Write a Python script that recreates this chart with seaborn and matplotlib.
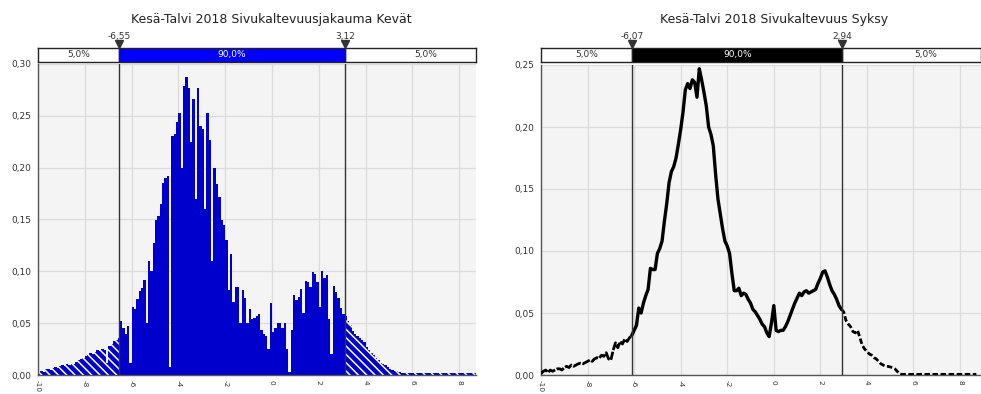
import numpy as np
import pandas as pd
import matplotlib
matplotlib.use("Agg")
import matplotlib.pyplot as plt
import seaborn as sns
from matplotlib.ticker import FuncFormatter, MultipleLocator

sns.set_theme(style="whitegrid")
plt.rcParams['font.family'] = ['DejaVu Sans']
plt.rcParams['hatch.linewidth'] = 1.1
plt.rcParams['hatch.color'] = 'white'

# ---------------- data ----------------
titles = ["Kesä-Talvi 2018 Sivukaltevuusjakauma Kevät", "Kesä-Talvi 2018 Sivukaltevuus Syksy"]
x_ticks = [-10, -8, -6, -4, -2, 0, 2, 4, 6, 8]
band_labels = ["5,0%", "90,0%", "5,0%"]

spring_lo, spring_hi = -6.55, 3.12
autumn_lo, autumn_hi = -6.07, 2.94

bin_start = -10.0
bin_width = 0.1
# spring: bar heights per 0.1 bin, left edges -10.0 ... 8.6
spring_values = [
    0.003, 0.004, 0.003, 0.006, 0.006, 0.005, 0.007, 0.008, 0.007, 0.009,
    0.010, 0.009, 0.011, 0.010, 0.012, 0.011, 0.013, 0.014, 0.015, 0.016,
    0.018, 0.019, 0.021, 0.020, 0.022, 0.024, 0.023, 0.025, 0.024, 0.012,
    0.028, 0.030, 0.033, 0.034, 0.036,
    0.052, 0.045, 0.040, 0.047, 0.012, 0.066, 0.064, 0.073, 0.081, 0.084,
    0.092, 0.050, 0.110, 0.100, 0.127, 0.150, 0.153, 0.165, 0.185, 0.190,
    0.192, 0.008, 0.231, 0.232, 0.244, 0.253, 0.200, 0.279, 0.287, 0.277,
    0.225, 0.266, 0.170, 0.277, 0.240, 0.237, 0.160, 0.253, 0.227, 0.110,
    0.200, 0.184, 0.172, 0.150, 0.145, 0.130, 0.082, 0.117, 0.070, 0.085,
    0.085, 0.050, 0.082, 0.074, 0.050, 0.064, 0.054, 0.055, 0.057, 0.059,
    0.043, 0.040, 0.038, 0.025, 0.069, 0.041, 0.045, 0.050, 0.050, 0.045,
    0.050, 0.025, 0.003, 0.043, 0.077, 0.072, 0.075, 0.083, 0.060, 0.091,
    0.090, 0.085, 0.099, 0.097, 0.090, 0.066, 0.100, 0.094, 0.096, 0.054,
    0.020, 0.086, 0.080, 0.074, 0.065, 0.059, 0.057, 0.052, 0.048, 0.042,
    0.040, 0.038, 0.036, 0.034, 0.032, 0.027, 0.024, 0.021, 0.019, 0.016,
    0.014, 0.012, 0.011, 0.010, 0.008, 0.006, 0.005, 0.004, 0.004, 0.003,
    0.002, 0.002, 0.0015, 0.0015, 0.002, 0.0015, 0.0015, 0.0015, 0.002, 0.0015,
    0.0015, 0.0015, 0.0015, 0.0015, 0.0015, 0.0015, 0.0015, 0.0015, 0.0015, 0.0015,
    0.0015, 0.0015, 0.0015, 0.0015, 0.0015, 0.0015, 0.0015, 0.0015, 0.0015, 0.0015,
    0.0015, 0.0015,
]

# autumn: curve values at x = -10.0 ... 8.7 (step 0.1)
autumn_values = [
    0.001, 0.003, 0.004, 0.002, 0.004, 0.003, 0.004, 0.005, 0.005, 0.004,
    0.006, 0.007, 0.006, 0.008, 0.007, 0.008, 0.009, 0.0095, 0.009, 0.010,
    0.011, 0.012, 0.011, 0.013, 0.014, 0.0135, 0.016, 0.015, 0.018, 0.013,
    0.012, 0.020, 0.026, 0.022, 0.027, 0.025, 0.029, 0.027, 0.030, 0.032,
    0.036, 0.040, 0.054, 0.050, 0.058, 0.064, 0.069, 0.086, 0.085, 0.085,
    0.098, 0.102, 0.108, 0.124, 0.138, 0.155, 0.164, 0.168, 0.175, 0.186,
    0.198, 0.212, 0.230, 0.235, 0.231, 0.238, 0.236, 0.224, 0.247, 0.238,
    0.228, 0.217, 0.200, 0.194, 0.185, 0.162, 0.142, 0.130, 0.118, 0.108,
    0.104, 0.098, 0.082, 0.068, 0.068, 0.070, 0.064, 0.066, 0.065, 0.061,
    0.058, 0.053, 0.051, 0.048, 0.045, 0.041, 0.039, 0.034, 0.031, 0.042,
    0.056, 0.036, 0.035, 0.036, 0.036, 0.039, 0.043, 0.048, 0.053, 0.058,
    0.062, 0.066, 0.064, 0.067, 0.068, 0.066, 0.067, 0.068, 0.069, 0.074,
    0.078, 0.083, 0.084, 0.079, 0.073, 0.068, 0.065, 0.061, 0.056, 0.053,
    0.051, 0.044, 0.041, 0.039, 0.035, 0.034, 0.036, 0.030, 0.024, 0.021,
    0.019, 0.017, 0.016, 0.014, 0.013, 0.011, 0.009, 0.008, 0.007, 0.007,
    0.0065, 0.006, 0.005, 0.003, 0.001, 0.0005, 0.0005, 0.0005, 0.0005, 0.0005,
    0.0005, 0.0005, 0.0005, 0.0005, 0.0005, 0.0005, 0.0005, 0.0005, 0.0005, 0.0005,
    0.0005, 0.0005, 0.0005, 0.0005, 0.0005, 0.0005, 0.0005, 0.0005, 0.0005, 0.0005,
    0.0005, 0.0005, 0.0005, 0.0005, 0.0005, 0.0005, 0.0005, 0.0005,
]

# ---------------- figure ----------------
W, H = 981, 394
fig = plt.figure(figsize=(W / 100, H / 100), dpi=100)

def frac_rect(x0, x1, ytop, ybot):
    return [x0 / W, (H - ybot) / H, (x1 - x0) / W, (ybot - ytop) / H]

comma2 = FuncFormatter(lambda v, p: f"{v:.2f}".replace(".", ","))
BG = "#F4F4F4"
GRID = "#DCDCDC"
SPINE = "#555555"
TXT = "#333333"


def style_axes(ax, xlim, ylim):
    ax.set_facecolor(BG)
    ax.set_xlim(*xlim)
    ax.set_ylim(*ylim)
    ax.set_xticks(x_ticks)
    ax.set_xticklabels([str(t) for t in x_ticks], rotation=-90, fontsize=5.3, color=TXT)
    ax.yaxis.set_major_locator(MultipleLocator(0.05))
    ax.yaxis.set_major_formatter(comma2)
    ax.tick_params(axis="y", labelsize=6.5, colors=TXT, length=3, width=0.8, pad=2)
    ax.tick_params(axis="x", length=2.5, width=0.8, pad=1, colors=TXT)
    ax.grid(True, color=GRID, linewidth=0.9)
    for s in ["top", "right"]:
        ax.spines[s].set_visible(False)
    for s in ["left", "bottom"]:
        ax.spines[s].set_color(SPINE)
        ax.spines[s].set_linewidth(1.0)
    ax.set_xlabel("")
    ax.set_ylabel("")


def draw_band(rect, xlim, lo, hi, mid_color, right_text_shift):
    bax = fig.add_axes(rect)
    bax.set_xlim(*xlim)
    bax.set_ylim(0, 1)
    bax.set_facecolor("white")
    bax.axvspan(lo, hi, color=mid_color, zorder=1)
    bax.axvline(lo, color="#222222", lw=1)
    bax.axvline(hi, color="#222222", lw=1)
    bax.set_xticks([])
    bax.set_yticks([])
    bax.grid(False)
    for s in bax.spines.values():
        s.set_color("#222222")
        s.set_linewidth(1.0)
    fs = 6.5
    bax.text((xlim[0] + lo) / 2, 0.5, band_labels[0], ha="center", va="center", fontsize=fs, color=TXT)
    bax.text((lo + hi) / 2, 0.5, band_labels[1], ha="center", va="center", fontsize=fs, color="white")
    bax.text((hi + xlim[1]) / 2 + right_text_shift, 0.5, band_labels[2], ha="center", va="center", fontsize=fs, color=TXT)
    for v in (lo, hi):
        bax.plot([v], [1.28], marker="v", ms=6, color="#333333", clip_on=False, zorder=5)
        bax.text(v, 1.85, f"{v:.2f}".replace(".", ","), ha="center", va="center", fontsize=6.5, color=TXT, clip_on=False)
    return bax

# ---------- left: spring histogram ----------
n_bins = len(spring_values)
edges = np.round(bin_start + bin_width * np.arange(n_bins + 1), 2)
centers = (edges[:-1] + edges[1:]) / 2
sv = np.array(spring_values)
inside = (centers > spring_lo) & (centers < spring_hi)
df_in = pd.DataFrame({"x": centers[inside], "w": sv[inside]})
df_out = pd.DataFrame({"x": centers[~inside], "w": sv[~inside]})
brange = (float(edges[0]), float(edges[-1]))

xlim_l = (-10.0, 8.72)
ax1 = fig.add_axes(frac_rect(38, 476, 64, 375))
sns.histplot(data=df_out, x="x", weights="w", binwidth=bin_width, binrange=brange, ax=ax1,
             color="#0000CC", alpha=1, linewidth=0, zorder=2)
n_out = len(ax1.patches)
for p in ax1.patches[:n_out]:
    p.set_hatch("\\\\\\\\")
    p.set_edgecolor("white")
    p.set_linewidth(0)
sns.histplot(data=df_in, x="x", weights="w", binwidth=bin_width, binrange=brange, ax=ax1,
             color="#0000CC", alpha=1, linewidth=0, zorder=2)
style_axes(ax1, xlim_l, (0, 0.30))
ax1.axvline(spring_lo, color="#333333", lw=1, zorder=4)
ax1.axvline(spring_hi, color="#333333", lw=1, zorder=4)
draw_band(frac_rect(38, 476, 48, 62), xlim_l, spring_lo, spring_hi, "#0000FF", 0.65)
fig.text(271 / W, 1 - 19 / H, titles[0], ha="center", va="center", fontsize=9, color="#222222")

# ---------- right: autumn curve ----------
ax_x = np.round(bin_start + bin_width * np.arange(len(autumn_values)), 2)
av = np.array(autumn_values)
df_a = pd.DataFrame({"x": ax_x, "y": av})
xlim_r = (-10.0, 8.9)
ax2 = fig.add_axes(frac_rect(541, 981, 65, 375))
left_part = df_a[df_a.x <= autumn_lo + 0.05]
mid_part = df_a[(df_a.x >= autumn_lo - 0.05) & (df_a.x <= autumn_hi + 0.05)]
right_part = df_a[df_a.x >= autumn_hi - 0.05]
sns.lineplot(data=mid_part, x="x", y="y", ax=ax2, color="black", lw=2.4, zorder=3)
sns.lineplot(data=left_part, x="x", y="y", ax=ax2, color="black", lw=2.0,
             linestyle=(0, (3.0, 0.6)), zorder=3)
sns.lineplot(data=right_part, x="x", y="y", ax=ax2, color="black", lw=2.0,
             linestyle=(0, (2.0, 0.9)), zorder=3)
style_axes(ax2, xlim_r, (0, 0.25))
ax2.axvline(autumn_lo, color="#333333", lw=1, zorder=4)
ax2.axvline(autumn_hi, color="#333333", lw=1, zorder=4)
draw_band(frac_rect(541, 981, 48, 62), xlim_r, autumn_lo, autumn_hi, "black", 0.6)
fig.text(774 / W, 1 - 19 / H, titles[1], ha="center", va="center", fontsize=9, color="#222222")

fig.savefig("out.png", dpi=100, facecolor="white")
